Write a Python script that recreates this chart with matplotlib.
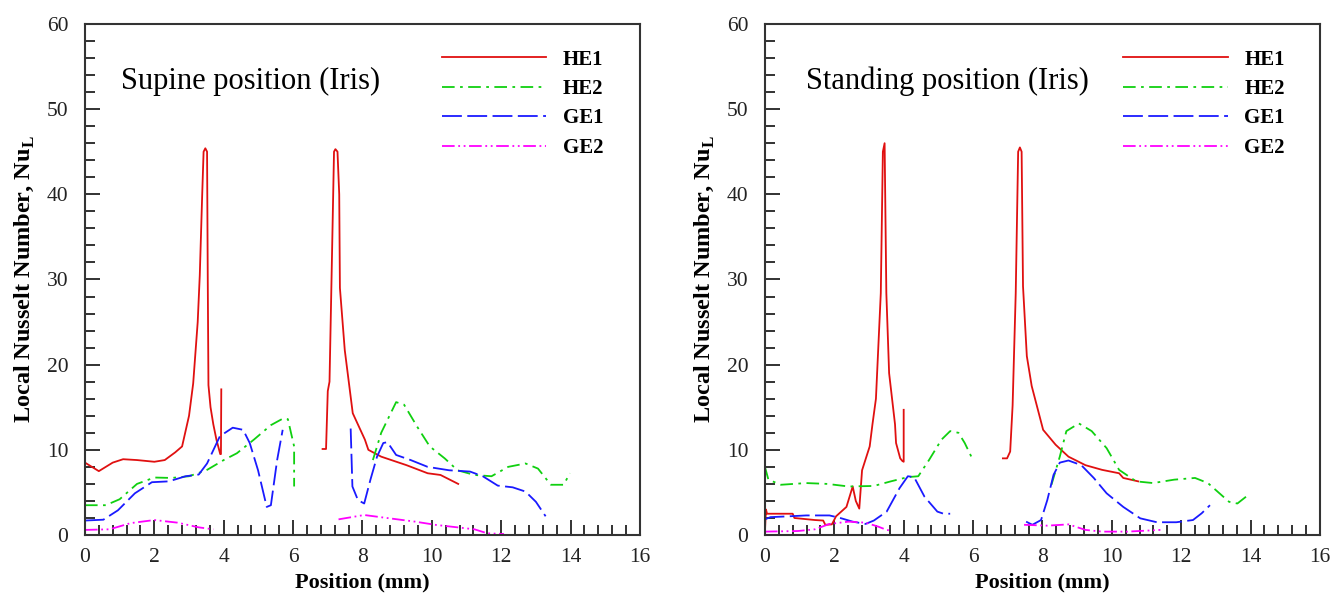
import matplotlib
matplotlib.use('Agg')
import numpy as np
import matplotlib.pyplot as plt
from matplotlib.ticker import MultipleLocator

plt.rcParams['font.family'] = 'Liberation Serif'
plt.rcParams['mathtext.fontset'] = 'custom'
plt.rcParams['mathtext.rm'] = 'Liberation Serif'
plt.rcParams['mathtext.bf'] = 'Liberation Serif:bold'

###########################################################################
# Supine position data (two segments per curve)
###########################################################################
sup_he1_x1 = [0, 0.4, 0.8, 1.1, 1.5, 2.0, 2.3, 2.6, 2.8, 3.0, 3.12, 3.25, 3.31, 3.38, 3.42, 3.47, 3.52, 3.54, 3.56, 3.62, 3.7, 3.79, 3.9, 3.92, 3.93]
sup_he1_y1 = [8.5, 7.5, 8.5, 8.9, 8.8, 8.6, 8.8, 9.7, 10.4, 14, 17.8, 25, 30.5, 40, 45, 45.4, 45, 30, 17.6, 15, 13, 11.2, 9.5, 9.5, 17.1]
sup_he1_x2 = [6.85, 6.95, 7.0, 7.05, 7.11, 7.18, 7.22, 7.28, 7.33, 7.35, 7.49, 7.72, 8.07, 8.17, 8.54, 9.27, 9.88, 10.25, 10.76]
sup_he1_y2 = [10.1, 10.1, 16.9, 18, 30.4, 45, 45.3, 45, 40, 29, 21.7, 14.3, 11.2, 10, 9.2, 8.2, 7.25, 7.05, 6.0]

sup_he2_x1 = [0, 0.6, 1.0, 1.5, 2.0, 2.5, 3.0, 3.5, 4.0, 4.38, 4.87, 5.36, 5.72, 5.85, 6.03, 6.03]
sup_he2_y1 = [3.5, 3.5, 4.2, 6.0, 6.75, 6.7, 6.9, 7.6, 8.8, 9.6, 11.2, 12.9, 13.7, 13.6, 10.4, 5.7]
sup_he2_x2 = [8.3, 8.54, 8.97, 9.2, 9.58, 9.94, 10.37, 10.74, 11.23, 11.72, 12.2, 12.7, 13.06, 13.43, 13.8, 13.98]
sup_he2_y2 = [8.8, 12, 15.6, 15.3, 12.7, 10.4, 9.0, 7.6, 7.05, 6.9, 8.0, 8.4, 7.8, 5.9, 5.9, 7.25]

sup_ge1_x1 = [0, 0.53, 0.95, 1.44, 1.93, 2.42, 2.9, 3.28, 3.52, 3.89, 4.26, 4.56, 4.75, 4.99, 5.24, 5.36, 5.54, 5.7]
sup_ge1_y1 = [1.7, 1.8, 2.9, 4.9, 6.2, 6.3, 6.9, 7.1, 8.4, 11.6, 12.6, 12.35, 10.8, 7.6, 3.3, 3.5, 8.8, 12.35]
sup_ge1_x2 = [7.66, 7.71, 7.87, 8.05, 8.23, 8.42, 8.6, 8.72, 8.97, 9.39, 9.88, 10.5, 11.1, 11.47, 11.9, 12.33, 12.7, 13.0, 13.28]
sup_ge1_y2 = [12.5, 5.7, 4.1, 3.7, 6.5, 9.2, 10.8, 10.9, 9.4, 8.8, 8.0, 7.6, 7.45, 6.9, 5.8, 5.6, 5.1, 3.9, 2.2]

sup_ge2_x1 = [0, 0.71, 1.32, 2.0, 2.67, 3.28, 3.7]
sup_ge2_y1 = [0.6, 0.67, 1.4, 1.76, 1.45, 0.9, 0.67]
sup_ge2_x2 = [7.31, 8.05, 8.78, 9.52, 10.13, 10.74, 11.23, 11.6, 12.08]
sup_ge2_y2 = [1.84, 2.35, 1.96, 1.57, 1.18, 0.9, 0.67, 0.2, 0.12]

###########################################################################
# Standing position data
###########################################################################
sta_he1_x1 = [0, 0.03, 0.06, 0.1, 0.8, 0.85, 1.44, 1.68, 1.74, 1.93, 2.05, 2.35, 2.53, 2.62, 2.72, 2.8, 3.02, 3.1, 3.2, 3.34, 3.4, 3.45, 3.5, 3.58, 3.75, 3.78, 3.9, 3.96, 4.0, 4.0]
sta_he1_y1 = [0.4, 3.0, 2.5, 2.5, 2.5, 2.0, 1.76, 1.7, 1.2, 1.25, 2.2, 3.3, 5.7, 4.0, 3.1, 7.6, 10.4, 13, 16, 28.4, 45, 46, 28.4, 19, 13, 10.8, 9.0, 8.7, 8.6, 14.7]
sta_he1_x2 = [6.86, 6.98, 7.07, 7.14, 7.23, 7.3, 7.35, 7.4, 7.44, 7.55, 7.69, 8.02, 8.38, 8.75, 9.24, 9.72, 10.21, 10.33, 10.76]
sta_he1_y2 = [9.0, 9.0, 9.8, 15.2, 28.4, 45, 45.5, 45, 29.2, 21, 17.5, 12.35, 10.6, 9.2, 8.2, 7.65, 7.25, 6.7, 6.3]

sta_he2_x1 = [0, 0.1, 0.46, 1.19, 1.8, 2.41, 3.14, 3.63, 4.12, 4.42, 4.73, 5.09, 5.34, 5.58, 5.76, 5.95]
sta_he2_y1 = [8.0, 6.5, 5.9, 6.1, 6.0, 5.7, 5.76, 6.3, 6.8, 6.9, 8.8, 11.2, 12.2, 12.0, 10.8, 9.2]
sta_he2_x2 = [8.26, 8.5, 8.69, 9.05, 9.42, 9.85, 10.21, 10.7, 11.19, 11.8, 12.4, 12.77, 13.38, 13.62, 13.87, 13.95]
sta_he2_y2 = [5.9, 9.2, 12.2, 13.1, 12.2, 10.2, 7.65, 6.3, 6.1, 6.5, 6.7, 6.1, 3.9, 3.7, 4.5, 4.1]

sta_ge1_x1 = [0, 0.16, 0.71, 1.19, 1.86, 2.17, 2.53, 2.9, 3.14, 3.51, 3.88, 4.12, 4.3, 4.6, 4.97, 5.15, 5.34]
sta_ge1_y1 = [1.84, 2.1, 2.2, 2.3, 2.3, 2.0, 1.57, 1.3, 1.7, 2.75, 5.5, 6.9, 6.8, 4.5, 2.75, 2.5, 2.5]
sta_ge1_x2 = [7.53, 7.71, 7.96, 8.14, 8.32, 8.5, 8.75, 9.12, 9.48, 9.85, 10.33, 10.82, 11.3, 11.86, 12.34, 12.59, 12.83]
sta_ge1_y2 = [1.57, 1.2, 1.76, 4.1, 7.06, 8.5, 8.75, 8.2, 6.7, 4.9, 3.3, 1.96, 1.5, 1.5, 1.76, 2.55, 3.5]

sta_ge2_x1 = [0, 0.95, 1.44, 1.86, 2.41, 2.9, 3.27, 3.51, 3.66]
sta_ge2_y1 = [0.4, 0.47, 0.67, 1.3, 1.57, 1.45, 0.98, 0.6, 0.5]
sta_ge2_x2 = [7.47, 8.14, 8.75, 9.24, 9.72, 10.45, 11.4]
sta_ge2_y2 = [1.2, 1.1, 1.25, 0.6, 0.4, 0.4, 0.6]

labels = ['HE1', 'HE2', 'GE1', 'GE2']
colors = ['#e01010', '#10d010', '#1a1aff', '#ff00ff']
styles = ['-', (0, (7, 3, 1.5, 3)), (0, (11, 3)), (0, (7, 2, 1, 2, 1, 2))]

supine = [(sup_he1_x1, sup_he1_y1, sup_he1_x2, sup_he1_y2),
          (sup_he2_x1, sup_he2_y1, sup_he2_x2, sup_he2_y2),
          (sup_ge1_x1, sup_ge1_y1, sup_ge1_x2, sup_ge1_y2),
          (sup_ge2_x1, sup_ge2_y1, sup_ge2_x2, sup_ge2_y2)]
standing = [(sta_he1_x1, sta_he1_y1, sta_he1_x2, sta_he1_y2),
            (sta_he2_x1, sta_he2_y1, sta_he2_x2, sta_he2_y2),
            (sta_ge1_x1, sta_ge1_y1, sta_ge1_x2, sta_ge1_y2),
            (sta_ge2_x1, sta_ge2_y1, sta_ge2_x2, sta_ge2_y2)]

fig = plt.figure(figsize=(13.38, 5.95), dpi=100)
ax1 = fig.add_axes([0.0635, 0.1008, 0.4148, 0.859])
ax2 = fig.add_axes([0.5717, 0.1008, 0.4148, 0.859])


def drawpanel(ax, data, title, tx, legx):
    for i, (x1, y1, x2, y2) in enumerate(data):
        ax.plot(x1, y1, color=colors[i], linestyle=styles[i], lw=1.3, label=labels[i])
        ax.plot(x2, y2, color=colors[i], linestyle=styles[i], lw=1.3)
    ax.set_xlim(0, 16)
    ax.set_ylim(0, 60)
    ax.xaxis.set_major_locator(MultipleLocator(2))
    ax.xaxis.set_minor_locator(MultipleLocator(0.4))
    ax.yaxis.set_major_locator(MultipleLocator(10))
    ax.yaxis.set_minor_locator(MultipleLocator(2))
    ax.tick_params(which='both', direction='in', top=False, right=False, width=1.3, labelsize=15.5, colors='#222222')
    ax.tick_params(which='major', length=11)
    ax.tick_params(which='minor', length=7)
    ax.tick_params(axis='x', which='major', pad=9.5)
    ax.tick_params(axis='y', which='major', pad=12)
    for s in ax.spines.values():
        s.set_linewidth(1.5)
        s.set_color('#333333')
    ax.set_xlabel('Position (mm)', fontsize=16, fontweight='bold', labelpad=4)
    ax.set_ylabel(r'Local Nusselt Number, Nu$_\mathbf{L}$', fontsize=17.5, fontweight='bold', labelpad=8)
    ax.text(tx, 53.3, title, fontsize=22, ha='left', va='center')
    ax.legend(loc='upper left', bbox_to_anchor=(legx, 0.97), frameon=False,
              handlelength=5.0, handletextpad=0.8, labelspacing=0.45, borderpad=0,
              prop={'size': 15, 'weight': 'bold'})


drawpanel(ax1, supine, 'Supine position (Iris)', 1.04, 0.625)
drawpanel(ax2, standing, 'Standing position (Iris)', 1.18, 0.627)

plt.savefig('out.png', dpi=100)
